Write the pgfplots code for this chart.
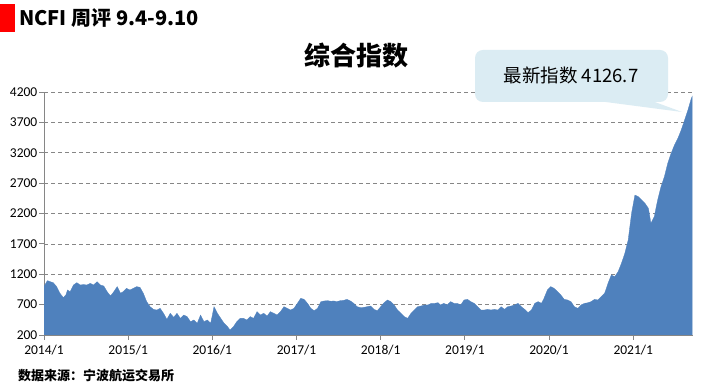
\documentclass[border=0pt]{standalone}
\usepackage{pgfplots}
\pgfplotsset{compat=1.18}
\usepackage{fontspec}
\setmainfont{Carlito}
\newfontfamily\cjk{Noto Sans CJK SC}
\definecolor{areablue}{RGB}{79,129,189}
\definecolor{axgray}{RGB}{134,134,134}
\definecolor{callout}{RGB}{219,236,243}
\definecolor{hdrred}{RGB}{255,0,0}
\begin{document}
\begin{tikzpicture}[x=1pt,y=1pt]
\useasboundingbox (0,0) rectangle (704,390);
\fill[white] (0,0) rectangle (704,390);
\begin{axis}[
  at={(44pt,55pt)}, anchor=south west,
  scale only axis, width=649pt, height=243pt,
  xmin=2014, xmax=2021.71, ymin=200, ymax=4200,
  ytick={200,700,...,4200},
  xtick={2014,2015,2016,2017,2018,2019,2020,2021},
  xticklabels={2014/1,2015/1,2016/1,2017/1,2018/1,2019/1,2020/1,2021/1},
  axis x line*=bottom, axis y line*=left,
  axis line style={draw=axgray, line width=0.8pt, -},
  tick style={draw=axgray, line width=0.8pt},
  tick align=outside, major tick length=5pt,
  ymajorgrids, grid style={draw=axgray, dashed, line width=0.7pt, dash pattern=on 4pt off 3pt},
  ticklabel style={font=\fontsize{13.5}{15}\selectfont, text=black},
  yticklabel style={/pgf/number format/1000 sep={}, /pgf/number format/assume math mode=true, inner sep=1.5pt},
  xticklabel style={inner sep=2pt, yshift=-3pt},
  axis on top=false,
]
\addplot[fill=areablue, draw=areablue, line width=0.3pt] table {
2014.00 1000
2014.04 1094
2014.11 1061
2014.15 996
2014.19 886
2014.23 815
2014.26 858
2014.28 941
2014.31 913
2014.35 1023
2014.39 1061
2014.43 1023
2014.47 1030
2014.51 1023
2014.55 1050
2014.59 1023
2014.63 1077
2014.67 1023
2014.71 1006
2014.75 913
2014.79 842
2014.83 913
2014.87 996
2014.91 886
2014.94 913
2014.98 968
2015.02 941
2015.06 968
2015.10 996
2015.14 985
2015.18 886
2015.22 749
2015.26 666
2015.30 622
2015.34 611
2015.38 639
2015.42 557
2015.46 458
2015.50 557
2015.54 491
2015.58 557
2015.62 474
2015.66 529
2015.70 502
2015.74 419
2015.78 447
2015.82 392
2015.86 529
2015.90 419
2015.94 447
2015.98 392
2016.02 666
2016.06 557
2016.10 474
2016.14 392
2016.18 337
2016.21 282
2016.25 337
2016.29 419
2016.33 474
2016.37 474
2016.41 447
2016.45 502
2016.49 474
2016.53 584
2016.57 529
2016.61 557
2016.65 513
2016.69 584
2016.73 557
2016.77 529
2016.81 584
2016.85 666
2016.89 639
2016.93 611
2016.97 639
2017.01 721
2017.05 804
2017.09 787
2017.13 721
2017.17 639
2017.21 600
2017.25 639
2017.29 749
2017.33 760
2017.37 765
2017.41 755
2017.44 760
2017.48 750
2017.52 765
2017.56 770
2017.60 787
2017.64 760
2017.68 721
2017.72 666
2017.76 650
2017.80 655
2017.84 666
2017.88 677
2017.92 622
2017.96 600
2018.00 666
2018.04 732
2018.08 776
2018.12 749
2018.16 694
2018.20 611
2018.24 557
2018.28 502
2018.32 474
2018.36 557
2018.40 611
2018.44 666
2018.48 677
2018.52 694
2018.56 694
2018.60 721
2018.64 721
2018.68 732
2018.71 694
2018.75 721
2018.79 694
2018.83 749
2018.87 721
2018.91 721
2018.95 694
2018.99 776
2019.03 787
2019.07 749
2019.11 721
2019.15 666
2019.19 611
2019.23 611
2019.27 622
2019.31 611
2019.35 622
2019.39 611
2019.43 666
2019.47 622
2019.51 666
2019.55 677
2019.59 694
2019.63 721
2019.67 666
2019.71 622
2019.75 568
2019.79 611
2019.83 721
2019.87 749
2019.91 721
2019.94 804
2019.98 941
2020.02 996
2020.06 968
2020.10 913
2020.14 858
2020.18 787
2020.22 776
2020.26 749
2020.30 666
2020.34 639
2020.38 694
2020.42 721
2020.46 730
2020.50 749
2020.54 787
2020.58 776
2020.62 831
2020.66 886
2020.70 1050
2020.74 1188
2020.78 1160
2020.82 1242
2020.86 1380
2020.90 1544
2020.94 1764
2020.98 2203
2021.02 2504
2021.06 2477
2021.10 2422
2021.14 2367
2021.18 2285
2021.21 2038
2021.25 2148
2021.29 2422
2021.33 2642
2021.37 2806
2021.41 3026
2021.45 3190
2021.49 3327
2021.53 3437
2021.57 3574
2021.61 3739
2021.65 3904
2021.69 4096
2021.70 4127
} \closedcycle;
\end{axis}
% header
\fill[hdrred] (0,358) rectangle (15,386);
\node[anchor=west, inner sep=0pt] at (19,372) {\cjk\bfseries\fontsize{20}{24}\selectfont NCFI 周评 9.4-9.10};
% title
\node[inner sep=0pt] at (356,334) {\cjk\bfseries\fontsize{26}{30}\selectfont 综合指数};
% callout
\fill[callout, rounded corners=8pt] (475,288) rectangle (668,340);
\fill[callout] (598,289) -- (652,289) -- (682,278) -- cycle;
\node[inner sep=0pt] at (571,315) {\cjk\fontsize{18.5}{22}\selectfont 最新指数 4126.7};
% source
\node[anchor=west, inner sep=0pt] at (18,14) {\cjk\bfseries\fontsize{13}{16}\selectfont 数据来源：宁波航运交易所};
\end{tikzpicture}
\end{document}
